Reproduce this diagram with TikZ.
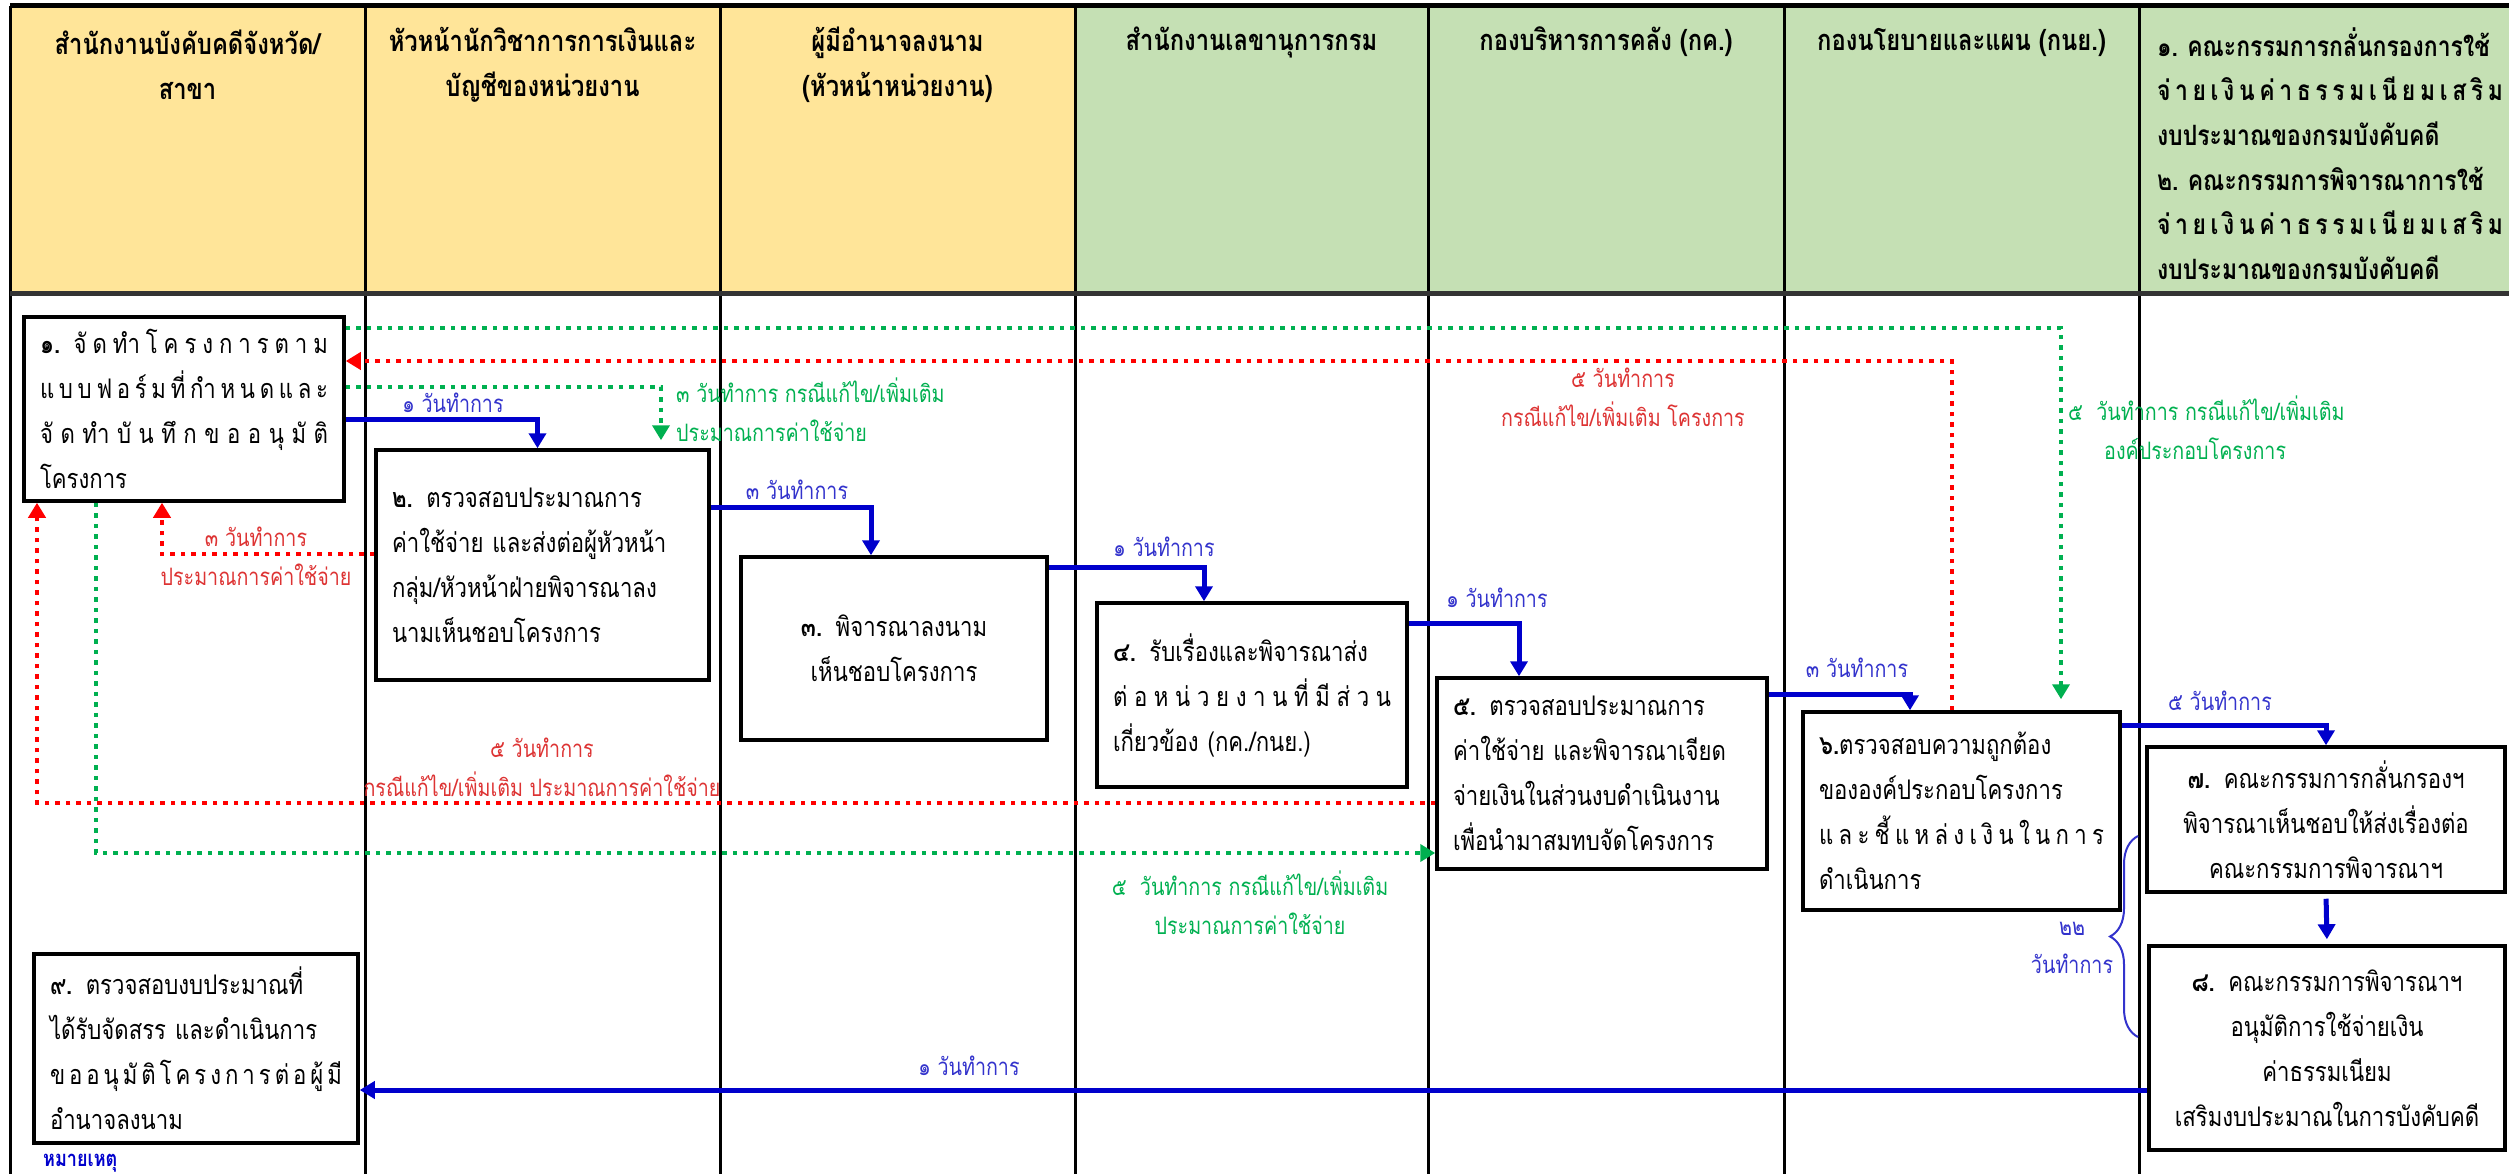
\documentclass[tikz,border=0pt]{standalone}
\usepackage{fontspec}
\setmainfont{Loma}[Script=Thai,FakeStretch=0.82]
\usepackage{tikz}
\usetikzlibrary{arrows.meta}
\usetikzlibrary{calc}
\usetikzlibrary{decorations.pathreplacing}

\definecolor{headyellow}{HTML}{FFE599}
\definecolor{headgreen}{HTML}{C5E0B4}
\definecolor{flowblue}{HTML}{0000CC}
\definecolor{textblue}{HTML}{3333CC}
\definecolor{flowred}{HTML}{FF0000}
\definecolor{textred}{HTML}{DD3333}
\definecolor{flowgreen}{HTML}{00B050}

\newcommand{\spreadline}[1]{\makebox[\hsize][s]{\spaceskip=0pt plus 1fil\relax #1}}

\begin{document}
\begin{tikzpicture}[x=1pt,y=-1pt,
	procbox/.style={draw,line width=3.5pt,inner xsep=16pt,inner ysep=0pt,align=left,
		font=\fontsize{27}{45}\selectfont},
	headtext/.style={align=center,inner sep=0pt,font=\bfseries\fontsize{29}{45}\selectfont},
	bluearrow/.style={flowblue,line width=5pt,-{Triangle[width=17pt,length=15pt]}},
	reddot/.style={flowred,line width=4.5pt,dash pattern=on 4.5pt off 6pt,-{Triangle[width=17pt,length=15pt]}},
	greendot/.style={flowgreen,line width=4.5pt,dash pattern=on 4.5pt off 6pt,-{Triangle[width=17pt,length=15pt]}},
	bluelabel/.style={text=textblue,inner sep=0pt,align=center,font=\fontsize{24}{38}\selectfont},
	redlabel/.style={text=textred,inner sep=0pt,align=center,font=\fontsize{24}{39}\selectfont},
	greenlabel/.style={text=flowgreen,inner sep=0pt,align=center,font=\fontsize{24}{39}\selectfont}]
	\useasboundingbox (0,0) rectangle (2509,1174);
	\scope
	\fill[headyellow] (10,6) rectangle (1075,294);
	\fill[headgreen] (1075,6) rectangle (2509,294);
	\endscope
	\foreach \x in {10,365,720,1075,1428,1784,2139}
		\draw[line width=3pt] (\x,6) -- (\x,1174);
	\draw[line width=5pt] (10,6) -- (2509,6);
	\draw[line width=5pt,black!80] (10,294) -- (2509,294);

	\node[headtext] (lane1) at (187.5,64.5) {สำนักงานบังคับคดีจังหวัด/\\สาขา};
	\node[headtext] (lane2) at (542.5,64.5) {หัวหน้านักวิชาการการเงินและ\\บัญชีของหน่วยงาน};
	\node[headtext] (lane3) at (897.5,64.5) {ผู้มีอำนาจลงนาม\\(หัวหน้าหน่วยงาน)};
	\node[headtext] (lane4) at (1251.5,42) {สำนักงานเลขานุการกรม};
	\node[headtext] (lane5) at (1606,42) {กองบริหารการคลัง (กค.)};
	\node[headtext] (lane6) at (1961.5,42) {กองนโยบายและแผน (กนย.)};
	\node[headtext,align=left,text width=346pt,font=\bfseries\fontsize{28}{44.6}\selectfont] (lane7) at (2330,153.5)
		{๑.~คณะกรรมการกลั่นกรองการใช้\\
		\spreadline{จ่ า ย เ งิ น ค่ า ธ ร ร ม เ นี ย ม เ ส ริ ม}\\
		งบประมาณของกรมบังคับคดี\\
		๒.~คณะกรรมการพิจารณาการใช้\\
		\spreadline{จ่ า ย เ งิ น ค่ า ธ ร ร ม เ นี ย ม เ ส ริ ม}\\
		งบประมาณของกรมบังคับคดี};

	\node[procbox,text width=288pt,minimum height=184pt] (b1) at (184,409)
		{\spreadline{\textbf{๑.} จั ด ทำ โ ค ร ง ก า ร ต า ม}\\
		\spreadline{แ บ บ ฟ อ ร์ ม ที่ กำ ห น ด แ ล ะ}\\
		\spreadline{จั ด ทำ บั น ทึ ก ข อ อ นุ มั ติ}\\
		โครงการ};
	\node[procbox,text width=301pt,minimum height=230pt] (b2) at (542.5,565)
		{\textbf{๒.} ตรวจสอบประมาณการ\\
		ค่าใช้จ่าย และส่งต่อผู้หัวหน้า\\
		กลุ่ม/หัวหน้าฝ่ายพิจารณาลง\\
		นามเห็นชอบโครงการ};
	\node[procbox,text width=274pt,minimum height=183pt,align=center] (b3) at (894,648.5)
		{\textbf{๓.} พิจารณาลงนาม\\
		เห็นชอบโครงการ};
	\node[procbox,text width=278pt,minimum height=184pt] (b4) at (1252,695)
		{\textbf{๔.} รับเรื่องและพิจารณาส่ง\\
		\spreadline{ต่ อ ห น่ ว ย ง า น ที่ มี ส่ ว น}\\
		เกี่ยวข้อง (กค./กนย.)};
	\node[procbox,text width=298pt,minimum height=191pt] (b5) at (1602,773.5)
		{\textbf{๕.} ตรวจสอบประมาณการ\\
		ค่าใช้จ่าย และพิจารณาเจียด\\
		จ่ายเงินในส่วนงบดำเนินงาน\\
		เพื่อนำมาสมทบจัดโครงการ};
	\node[procbox,text width=285pt,minimum height=198pt] (b6) at (1961.5,811)
		{\textbf{๖.}ตรวจสอบความถูกต้อง\\
		ขององค์ประกอบโครงการ\\
		\spreadline{แ ล ะ ชี้ แ ห ล่ ง เ งิ น ใ น ก า ร}\\
		ดำเนินการ};
	\node[procbox,text width=326pt,minimum height=145pt,align=center] (b7) at (2326,819.5)
		{\textbf{๗.} คณะกรรมการกลั่นกรองฯ\\
		พิจารณาเห็นชอบให้ส่งเรื่องต่อ\\
		คณะกรรมการพิจารณาฯ};
	\node[procbox,text width=324pt,minimum height=204pt,align=center] (b8) at (2327,1048)
		{\textbf{๘.} คณะกรรมการพิจารณาฯ\\
		อนุมัติการใช้จ่ายเงิน\\
		ค่าธรรมเนียม\\
		เสริมงบประมาณในการบังคับคดี};
	\node[procbox,text width=292pt,minimum height=189pt] (b9) at (196,1048.5)
		{\textbf{๙.} ตรวจสอบงบประมาณที่\\
		ได้รับจัดสรร และดำเนินการ\\
		\spreadline{ข อ อ นุ มั ติ โ ค ร ง ก า ร ต่ อ ผู้ มี}\\
		อำนาจลงนาม};

	\draw[bluearrow] ([yshift=-10pt]b1.east) -| ([xshift=-5pt]b2.north);
	\draw[bluearrow] ([yshift=58pt]b2.east) -| ([xshift=-23pt]b3.north);
	\draw[bluearrow] ([yshift=81.5pt]b3.east) -| ([xshift=-48pt]b4.north);
	\draw[bluearrow] ([yshift=72pt]b4.east) -| ([xshift=-83pt]b5.north);
	\draw[bluearrow] ([yshift=79.5pt]b5.east) -| ([xshift=-51.5pt]b6.north);
	\draw[bluearrow] ([yshift=86pt]b6.east) -| (b7.north);
	\draw[bluearrow,shorten <=5pt,shorten >=5pt] (b7.south) -- (b8.north);
	\draw[bluearrow] ([yshift=-42pt]b8.west) -- ([yshift=-42pt]b8.west -| b9.east);

	\draw[reddot] ([xshift=-9.5pt]b6.north) |- ([yshift=48pt]b1.east);
	\draw[reddot] ([yshift=11pt]b2.west) -| ([xshift=-22pt]b1.south);
	\draw[reddot] ([yshift=-29.5pt]b5.west) -| ([xshift=-147pt]b1.south);
	\draw[greendot,shorten >=11pt] ([yshift=81pt]b1.east) -| ([xshift=99.5pt]b6.north);
	\draw[greendot,shorten >=8pt] ([yshift=22pt]b1.east) -| ([xshift=118.5pt]b2.north);
	\draw[greendot] ([xshift=-88pt]b1.south) |- ([yshift=-79.5pt]b5.west);

	\draw[textblue,line width=2pt,decorate,decoration={brace,amplitude=28pt}] (2138,1037) -- (2138,836);

	\node[bluelabel] (d12) at (453,403) {๑ วันทำการ};
	\node[bluelabel] (d23) at (797,490) {๓ วันทำการ};
	\node[bluelabel] (d34) at (1164,547) {๑ วันทำการ};
	\node[bluelabel] (d45) at (1497,598) {๑ วันทำการ};
	\node[bluelabel] (d56) at (1857,668) {๓ วันทำการ};
	\node[bluelabel] (d67) at (2220,701) {๕ วันทำการ};
	\node[bluelabel] (d89) at (969,1066) {๑ วันทำการ};
	\node[bluelabel] (d68) at (2072,948) {๒๒\\วันทำการ};
	\node[redlabel] (r61) at (1623,397.5) {๕ วันทำการ\\กรณีแก้ไข/เพิ่มเติม โครงการ};
	\node[redlabel] (r21) at (256,556) {๓ วันทำการ\\ประมาณการค่าใช้จ่าย};
	\node[redlabel] (r51) at (542,767) {๕ วันทำการ\\กรณีแก้ไข/เพิ่มเติม ประมาณการค่าใช้จ่าย};
	\node[greenlabel,anchor=west,align=left] (g16) at (2068,427.5) {๕\ \ วันทำการ กรณีแก้ไข/เพิ่มเติม\\\hspace*{36pt}องค์ประกอบโครงการ};
	\node[greenlabel,anchor=west,align=left] (g12) at (676,410) {๓ วันทำการ กรณีแก้ไข/เพิ่มเติม\\ประมาณการค่าใช้จ่าย};
	\node[greenlabel] (g15) at (1250,902.5) {๕\ \ วันทำการ กรณีแก้ไข/เพิ่มเติม\\ประมาณการค่าใช้จ่าย};
	\node[anchor=south west,inner sep=0pt,text=flowblue,font=\bfseries\fontsize{22}{30}\selectfont] (note) at (43,1172) {หมายเหตุ};
\end{tikzpicture}
\end{document}
